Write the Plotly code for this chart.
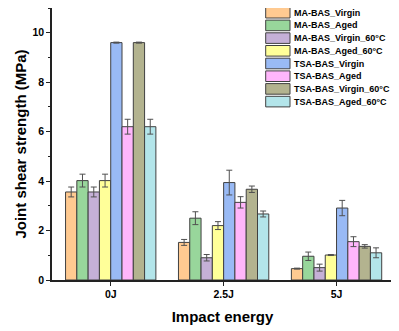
import plotly.graph_objects as go

categories = ["0J", "2.5J", "5J"]
series_names = ["MA-BAS_Virgin", "MA-BAS_Aged", "MA-BAS_Virgin_60°C", "MA-BAS_Aged_60°C",
                "TSA-BAS_Virgin", "TSA-BAS_Aged", "TSA-BAS_Virgin_60°C", "TSA-BAS_Aged_60°C"]
colors = ["#FFCA91", "#98D69B", "#C5B0D7", "#FFFF99", "#99BAF5", "#FFB6FB", "#B3B38F", "#B3E5EA"]

ma_virgin = [3.56, 1.52, 0.46]
ma_aged = [4.02, 2.50, 0.96]
ma_virgin_60 = [3.56, 0.90, 0.50]
ma_aged_60 = [4.02, 2.20, 1.01]
tsa_virgin = [9.60, 3.94, 2.91]
tsa_aged = [6.20, 3.14, 1.55]
tsa_virgin_60 = [9.60, 3.67, 1.36]
tsa_aged_60 = [6.20, 2.67, 1.10]

ma_virgin_err = [0.20, 0.12, 0.02]
ma_aged_err = [0.26, 0.26, 0.17]
ma_virgin_60_err = [0.20, 0.13, 0.14]
ma_aged_60_err = [0.26, 0.16, 0.02]
tsa_virgin_err = [0.02, 0.50, 0.31]
tsa_aged_err = [0.30, 0.23, 0.20]
tsa_virgin_60_err = [0.02, 0.13, 0.07]
tsa_aged_60_err = [0.30, 0.12, 0.20]

values = [ma_virgin, ma_aged, ma_virgin_60, ma_aged_60, tsa_virgin, tsa_aged, tsa_virgin_60, tsa_aged_60]
errors = [ma_virgin_err, ma_aged_err, ma_virgin_60_err, ma_aged_60_err,
          tsa_virgin_err, tsa_aged_err, tsa_virgin_60_err, tsa_aged_60_err]

FONT = "Liberation Sans, Arial, sans-serif"
EDGE = "#404040"

# figure geometry (page has an 8px body margin)
W, H = 391, 323
ML, MR, MT, MB = 44, 6, 0, 51
PW, PH = W - ML - MR, H - MT - MB


def px_to_paper_x(px):
    return (px - ML) / PW


def px_to_paper_y(py):
    return (H - MB - py) / PH


fig = go.Figure()
for name, col, v, e in zip(series_names, colors, values, errors):
    fig.add_trace(go.Bar(
        x=categories, y=v, name=name,
        marker=dict(color=col, line=dict(color=EDGE, width=1)),
        error_y=dict(type="data", array=e, visible=True, color="#505050", thickness=1, width=3),
    ))

# compact legend (swatch + label per series)
leg_x0, leg_x1, leg_tx = 257.7, 282.0, 285.2
leg_y0, leg_dy, sw_h = 4.7, 12.7, 10.6
shapes, annotations = [], []
for i, (name, col) in enumerate(zip(series_names, colors)):
    cy = leg_y0 + leg_dy * i
    shapes.append(dict(type="rect", xref="paper", yref="paper",
                       x0=px_to_paper_x(leg_x0), x1=px_to_paper_x(leg_x1),
                       y0=px_to_paper_y(cy + sw_h / 2), y1=px_to_paper_y(cy - sw_h / 2),
                       fillcolor=col, line=dict(color=EDGE, width=1)))
    annotations.append(dict(xref="paper", yref="paper", x=px_to_paper_x(leg_tx), y=px_to_paper_y(cy),
                            xanchor="left", yanchor="middle", text=name, showarrow=False,
                            borderpad=0,
                            font=dict(family=FONT, size=9, weight="bold", color="black")))

fig.update_layout(
    width=W, height=H,
    margin=dict(l=ML, r=MR, t=MT, b=MB),
    paper_bgcolor="white", plot_bgcolor="white",
    barmode="group", bargap=0.2, bargroupgap=0,
    font=dict(family=FONT, color="black"),
    showlegend=False,
    shapes=shapes, annotations=annotations,
)
fig.update_xaxes(
    range=[-0.52, 2.5], showline=True, linecolor="#222", linewidth=1.5,
    ticks="outside", ticklen=4, tickcolor="#222",
    tickfont=dict(family=FONT, size=10.5, weight="bold"),
    title=dict(text="Impact energy", font=dict(family=FONT, size=15, weight="bold"), standoff=12),
)
fig.update_yaxes(
    range=[0, 11], dtick=2, tick0=0, showline=True, linecolor="#222", linewidth=1.5,
    ticks="outside", ticklen=4, tickcolor="#222", showgrid=False, zeroline=False,
    minor=dict(dtick=1, ticks="outside", ticklen=2, tickcolor="#222", showgrid=False),
    tickfont=dict(family=FONT, size=10.5, weight="bold"),
    title=dict(text="Joint shear strength (MPa)", font=dict(family=FONT, size=15, weight="bold"), standoff=2),
)

fig.write_html("out.html")
